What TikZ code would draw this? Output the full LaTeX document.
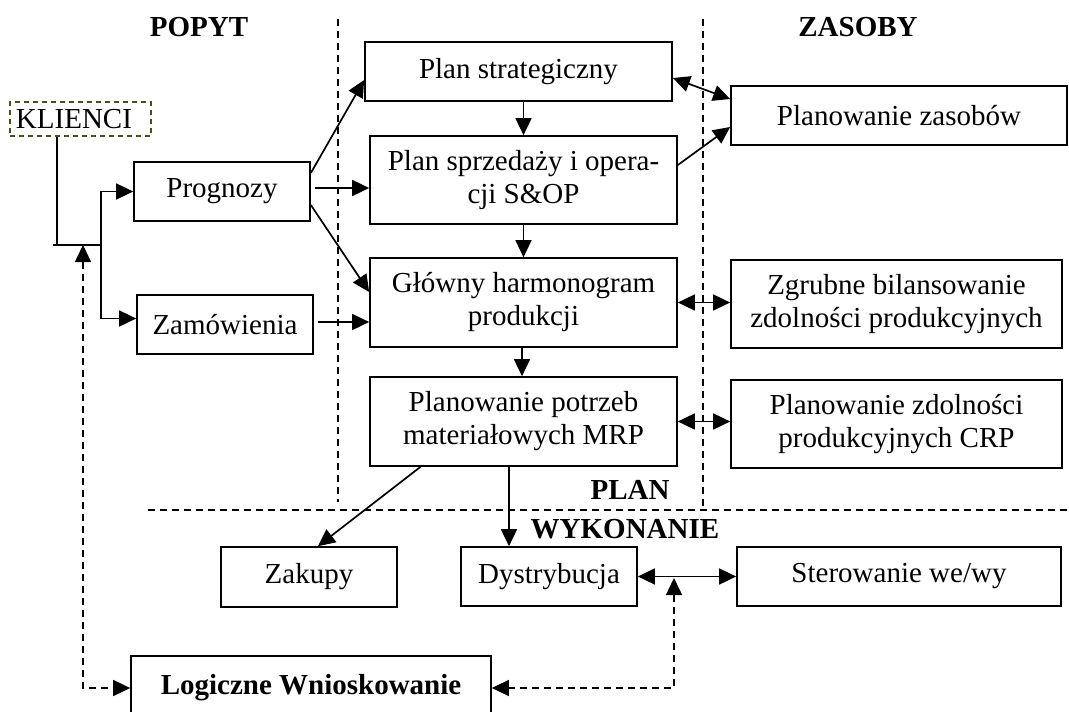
\documentclass[tikz,border=0pt]{standalone}
\usepackage{fontspec}
\setmainfont{Liberation Serif}
\usetikzlibrary{calc,positioning,arrows.meta}
\definecolor{oliwka}{RGB}{77,77,26}
\tikzset{
  blok/.style={draw,line width=1.7pt,rectangle,inner sep=0pt,align=center,
    font=\fontsize{29}{33}\selectfont},
  etykieta/.style={font=\fontsize{29}{33}\selectfont\bfseries},
  grot/.tip={Triangle[length=17pt,width=16pt]},
  strz/.style={line width=1.7pt,-grot},
  dwustrz/.style={line width=1.7pt,grot-grot},
  podzial/.style={line width=1.5pt,dash pattern=on 7pt off 5pt},
  przer/.style={line width=1.5pt,dash pattern=on 7pt off 5pt,grot-grot}
}

\begin{document}
\begin{tikzpicture}[x=1pt,y=-1pt]
\useasboundingbox (0,0) rectangle (1069,712);

% linie podzialu
\draw[podzial] (338,19) -- (338,502);
\draw[podzial] (703,19) -- (703,510);
\draw[podzial] (148,510) -- (1069,510);

% napisy obszarow
\node[etykieta] (popyt) at (199,27) {POPYT};
\node[etykieta] (zasoby) at (858,27) {ZASOBY};
\node[etykieta] (plan) at (630,490) {PLAN};
\node[etykieta] (wyk) at (625,529) {WYKONANIE};

% bloki - plan
\node[blok,minimum width=307pt,minimum height=59pt] (strat) at (518.5,71.5) {Plan strategiczny};
\node[blok,minimum width=307pt,minimum height=88pt] (sop) at (523.5,180) {Plan sprzedaży i opera-\\cji S\&OP};
\node[blok,minimum width=307pt,minimum height=89pt] (ghp) at (523.5,302.5) {Główny harmonogram\\produkcji};
\node[blok,minimum width=307pt,minimum height=89pt] (mrp) at (523.5,421.5) {Planowanie potrzeb\\materiałowych MRP};

% bloki - popyt
\node[blok,draw=oliwka,dash pattern=on 5pt off 4pt,minimum height=34pt,text width=129pt,
  inner xsep=6pt,align=left] (kli) at (80.5,119) {KLIENCI};
\node[blok,minimum width=176pt,minimum height=59pt] (prog) at (222,191.5) {Prognozy};
\node[blok,minimum width=176pt,minimum height=59pt] (zam) at (225,324.5) {Zamówienia};

% bloki - zasoby
\node[blok,minimum width=336pt,minimum height=59pt] (zas) at (899,115.5) {Planowanie zasobów};
\node[blok,minimum width=331pt,minimum height=88pt] (zgr) at (896.5,304) {Zgrubne bilansowanie\\zdolności produkcyjnych};
\node[blok,minimum width=331pt,minimum height=88pt] (crp) at (896.5,424) {Planowanie zdolności\\produkcyjnych CRP};

% bloki - wykonanie
\node[blok,minimum width=176pt,minimum height=60pt] (zak) at (309,577) {Zakupy};
\node[blok,minimum width=176pt,minimum height=59pt] (dys) at (549,576.5) {Dystrybucja};
\node[blok,minimum width=324pt,minimum height=59pt] (ster) at (899,576.5) {Sterowanie we/wy};
\node[blok,minimum width=360pt,minimum height=64pt,font=\fontsize{29}{33}\selectfont\bfseries] (log) at (311,688) {Logiczne Wnioskowanie};

% rozgalezienie od klientow
\coordinate (kdol) at (57,245);
\coordinate (kstub) at (53,245);
\coordinate (rozg) at (101,245);
\coordinate (lwe) at (83,245);
\coordinate (dwe) at (674,578);
\draw[line width=1.7pt] (kli.south -| kdol) -- (kdol);
\draw[line width=1.7pt] (kstub) -- (rozg);
\draw[strz] (rozg) |- (prog.west);
\draw[strz] (rozg) |- ([yshift=6pt]zam.west);

% polaczenia popyt - plan
\draw[strz] ([yshift=18.5pt]prog.east) -- ([yshift=-8.5pt]strat.west);
\draw[strz] ([xshift=4pt,yshift=3.5pt]prog.east) -- ([yshift=3.5pt]prog.east -| sop.west);
\draw[strz] ([yshift=-13.5pt]prog.east) -- ([yshift=10.5pt]ghp.west);
\draw[strz] ([xshift=4pt,yshift=2.5pt]zam.east) -- ([yshift=2.5pt]zam.east -| ghp.west);

% przeplyw w planie
\draw[strz] (strat.south -| sop.north) -- (sop.north);
\draw[strz] (sop) -- (ghp);
\draw[strz] ([xshift=-1.5pt]ghp.south) -- ([xshift=-1.5pt]mrp.north);

% polaczenia z zasobami
\draw[dwustrz] ([yshift=-6.5pt]strat.east) -- ([yshift=16.5pt]zas.west);
\draw[strz] ([yshift=15pt]sop.east) -- ([yshift=-11.5pt]zas.west);
\draw[dwustrz] (ghp.east) -- (ghp.east -| zgr.west);
\draw[dwustrz] (mrp.east) -- (mrp.east -| crp.west);

% wykonanie
\draw[strz] ([xshift=-103pt]mrp.south) -- ([xshift=9pt]zak.north);
\draw[strz] ([xshift=-14.5pt]mrp.south) -- ([xshift=-14.5pt]mrp.south |- dys.north);
\draw[dwustrz] (dys.east) -- (ster.west);

% sprzezenia zwrotne
\draw[przer] (lwe) |- (log.west);
\draw[przer] (log.east) -| (dwe);

\end{tikzpicture}
\end{document}
